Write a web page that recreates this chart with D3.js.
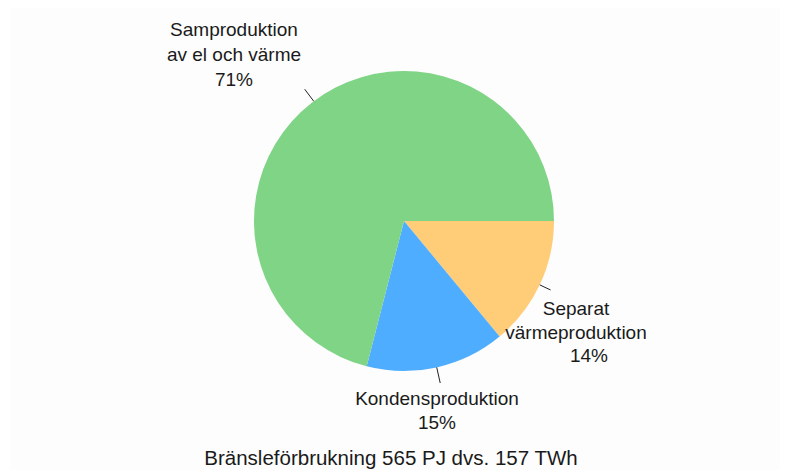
<!DOCTYPE html>
<html>
<head>
<meta charset="utf-8">
<script src="https://cdn.jsdelivr.net/npm/d3@7"></script>
<style>
  body { margin: 0; background: #fff; }
  text { font-family: "Liberation Sans", Arial, sans-serif; fill: #1a1a1a; }
</style>
</head>
<body>
<script>
// slices in drawing order, clockwise from 3 o'clock
var categories = ['Separat värmeproduktion', 'Kondensproduktion', 'Samproduktion av el och värme']
var shares = [14, 15, 71]
var labelLines = [['Separat', 'värmeproduktion', '14%'], ['Kondensproduktion', '15%'], ['Samproduktion', 'av el och värme', '71%']]
var colors = ['#ffcc77', '#4eadff', '#7fd485']
var title = 'Bränsleförbrukning 565 PJ dvs. 157 TWh'

var width = 788, height = 470
var cx = 404, cy = 221, r = 150

var svg = d3.select('body').append('svg')
    .attr('width', width)
    .attr('height', height)

svg.append('rect')
    .attr('x', 10).attr('y', 8)
    .attr('width', 770).attr('height', 470)
    .attr('fill', '#fdfdfd')

var pie = d3.pie().sort(null)
    .startAngle(Math.PI / 2)
    .endAngle(Math.PI / 2 + 2 * Math.PI)
var arcs = pie(shares)
var arc = d3.arc().innerRadius(0).outerRadius(r)

var g = svg.append('g').attr('transform', 'translate(' + cx + ',' + cy + ')')

g.selectAll('path')
    .data(arcs)
    .enter()
    .append('path')
    .attr('d', arc)
    .attr('fill', function (d, i) { return colors[i] })

// the big slice has its label moved up to the upper left
function labelAngle(d, i) {
    if (i === 2) return 323 * Math.PI / 180
    return (d.startAngle + d.endAngle) / 2
}
var tick = [12, 16, 15]

g.selectAll('line.lead')
    .data(arcs)
    .enter()
    .append('line')
    .attr('class', 'lead')
    .attr('x1', function (d, i) { return Math.sin(labelAngle(d, i)) * r })
    .attr('y1', function (d, i) { return -Math.cos(labelAngle(d, i)) * r })
    .attr('x2', function (d, i) { return Math.sin(labelAngle(d, i)) * (r + tick[i]) })
    .attr('y2', function (d, i) { return -Math.cos(labelAngle(d, i)) * (r + tick[i]) })
    .attr('stroke', '#222')
    .attr('stroke-width', 1)

// label anchor points (center of first line baseline)
var labelPos = [[576, 315], [437, 405], [234, 36]]
var lineH = [23.5, 23.5, 25]

labelLines.forEach(function (lines, i) {
    var t = svg.append('text')
        .attr('text-anchor', 'middle')
        .attr('font-size', 19)
    lines.forEach(function (s, j) {
        t.append('tspan')
            .attr('x', labelPos[i][0] + (i === 0 && j === 2 ? 13 : 0))
            .attr('y', labelPos[i][1] + j * lineH[i])
            .text(s)
    })
})

svg.append('text')
    .attr('x', 391)
    .attr('y', 465)
    .attr('text-anchor', 'middle')
    .attr('font-size', 20.5)
    .text(title)
</script>
</body>
</html>
